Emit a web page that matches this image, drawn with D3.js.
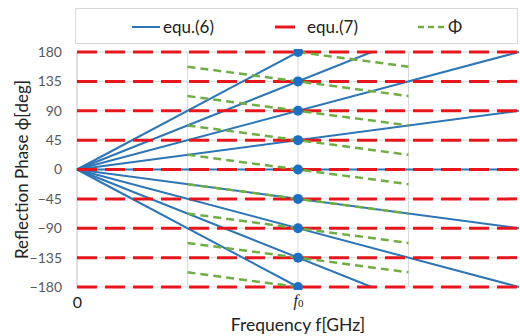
<!DOCTYPE html>
<html>
<head>
<meta charset="utf-8">
<script src="https://cdn.jsdelivr.net/npm/d3@7"></script>
<style>
  body { margin: 0; background: #fff; }
  svg { display: block; font-family: Lato, "Open Sans", sans-serif; }
</style>
</head>
<body>
<div id="chart"></div>
<script>
// phase levels (deg) shared by the ticks, equ.(7) lines and the dots at f0
var yTicks = [-180, -135, -90, -45, 0, 45, 90, 135, 180];
var xTicks = [0, 2];              // 0 and f0
var xGrid = [1, 2, 3];
var equ7Levels = [-180, -135, -90, -45, 0, 45, 90, 135, 180];
var f0Phases = [-180, -135, -90, -45, 0, 45, 90, 135, 180];

// equ.(6): straight lines out of the origin, ends
var equ6Lines = [
  [[0, 0], [2, 180]],
  [[0, 0], [2.667, 180]],
  [[0, 0], [4, 180]],
  [[0, 0], [4, 90]],
  [[0, 0], [4, 0]],
  [[0, 0], [4, -90]],
  [[0, 0], [4, -180]],
  [[0, 0], [2.667, -180]],
  [[0, 0], [2, -180]]
];

// Phi: short falling segments around f0
var phiLines = [
  [[2, 180], [3, 157.5]],
  [[1, 157.5], [3, 112.5]],
  [[1, 112.5], [3, 67.5]],
  [[1, 67.5], [3, 22.5]],
  [[1, 22.5], [3, -22.5]],
  [[1, -22.5], [3, -67.5]],
  [[1, -67.5], [3, -112.5]],
  [[1, -112.5], [3, -157.5]],
  [[1, -157.5], [2, -180]]
];

var width = 520, height = 336;
var blue = "#2e75b6", red = "#e8161c", green = "#70ad47";

var svg = d3.select("#chart").append("svg")
    .attr("width", width)
    .attr("height", height);

var x = d3.scaleLinear().domain([0, 4]).range([77, 519]);
var y = d3.scaleLinear().domain([-180, 180]).range([287, 52]);

// gridlines
svg.append("g").selectAll("line").data(yTicks).join("line")
    .attr("x1", x(0)).attr("x2", x(4))
    .attr("y1", d => y(d)).attr("y2", d => y(d))
    .attr("stroke", "#d9d9d9").attr("stroke-width", 1);

svg.append("g").selectAll("line").data(xGrid).join("line")
    .attr("x1", d => x(d)).attr("x2", d => x(d))
    .attr("y1", y(180)).attr("y2", y(-180))
    .attr("stroke", "#d9d9d9").attr("stroke-width", 1);

svg.append("line")
    .attr("x1", x(0)).attr("x2", x(0))
    .attr("y1", y(180)).attr("y2", y(-180))
    .attr("stroke", "#bfbfbf").attr("stroke-width", 1);

// axes
var yAxis = svg.append("g")
    .attr("transform", "translate(" + x(0) + ",0)")
    .call(d3.axisLeft(y).tickValues(yTicks).tickSize(0).tickPadding(15));
yAxis.select(".domain").remove();
yAxis.selectAll("text")
    .attr("font-size", 14).attr("fill", "#595959")
    .attr("font-family", "Lato, sans-serif");

var xAxis = svg.append("g")
    .attr("transform", "translate(0," + y(-180) + ")")
    .call(d3.axisBottom(x).tickValues(xTicks).tickFormat(d3.format("d")).tickSize(0).tickPadding(10));
xAxis.select(".domain").remove();
xAxis.selectAll("text")
    .attr("font-size", 16).attr("fill", "#222")
    .attr("font-family", "Lato, sans-serif")
    .each(function(d) {
        if (d === 2) {
            var t = d3.select(this).text("");
            t.attr("font-family", "'Liberation Serif', serif").attr("font-style", "italic")
                .attr("font-size", 16).attr("y", 8);
            t.append("tspan").text("f");
            t.append("tspan").attr("font-size", 11).attr("font-style", "normal").attr("dy", 1).text("0");
        }
    });

svg.append("clipPath").attr("id", "plot")
  .append("rect")
    .attr("x", x(0) - 2).attr("y", y(180) - 3)
    .attr("width", x(4) - x(0) + 4).attr("height", y(-180) - y(180) + 6);

var line = d3.line().x(d => x(d[0])).y(d => y(d[1]));
var plot = svg.append("g").attr("clip-path", "url(#plot)");

plot.append("g").selectAll("path").data(equ6Lines).join("path")
    .attr("d", line)
    .attr("fill", "none").attr("stroke", blue).attr("stroke-width", 2);

plot.append("g").selectAll("line").data(equ7Levels).join("line")
    .attr("x1", x(0)).attr("x2", x(4))
    .attr("y1", d => y(d)).attr("y2", d => y(d))
    .attr("stroke", red).attr("stroke-width", 3)
    .attr("stroke-dasharray", "20,8");

plot.append("g").selectAll("path").data(phiLines).join("path")
    .attr("d", line)
    .attr("fill", "none").attr("stroke", green).attr("stroke-width", 2.5)
    .attr("stroke-dasharray", "8,5");

plot.append("g").selectAll("circle").data(f0Phases).join("circle")
    .attr("cx", x(2)).attr("cy", d => y(d)).attr("r", 5)
    .attr("fill", "#1f6fc0");

// axis titles
svg.append("text")
    .attr("transform", "translate(28," + y(0) + ") rotate(-90)")
    .attr("text-anchor", "middle")
    .attr("font-size", 17).attr("fill", "#222")
    .text("Reflection Phase ϕ[deg]");

svg.append("text")
    .attr("x", x(2)).attr("y", 331)
    .attr("text-anchor", "middle")
    .attr("font-size", 17.5).attr("fill", "#222")
    .text("Frequency f[GHz]");

// legend
var legend = svg.append("g");
legend.append("rect")
    .attr("x", 75.5).attr("y", 8.5).attr("width", 442).attr("height", 35)
    .attr("fill", "#fff").attr("stroke", "#d9d9d9");

var legendItems = [
  { label: "equ.(6)", color: blue, dash: null, width: 2, x0: 132, x1: 160, tx: 163 },
  { label: "equ.(7)", color: red, dash: null, width: 3, x0: 275, x1: 295, tx: 307 },
  { label: "Φ", color: green, dash: "6,4", width: 2.5, x0: 418, x1: 447, tx: 448 }
];
legendItems.forEach(function(it) {
    legend.append("line")
        .attr("x1", it.x0).attr("x2", it.x1).attr("y1", 27).attr("y2", 27)
        .attr("stroke", it.color).attr("stroke-width", it.width)
        .attr("stroke-dasharray", it.dash);
    legend.append("text")
        .attr("x", it.tx).attr("y", 33)
        .attr("font-size", 17).attr("fill", "#222")
        .text(it.label);
});
</script>
</body>
</html>
